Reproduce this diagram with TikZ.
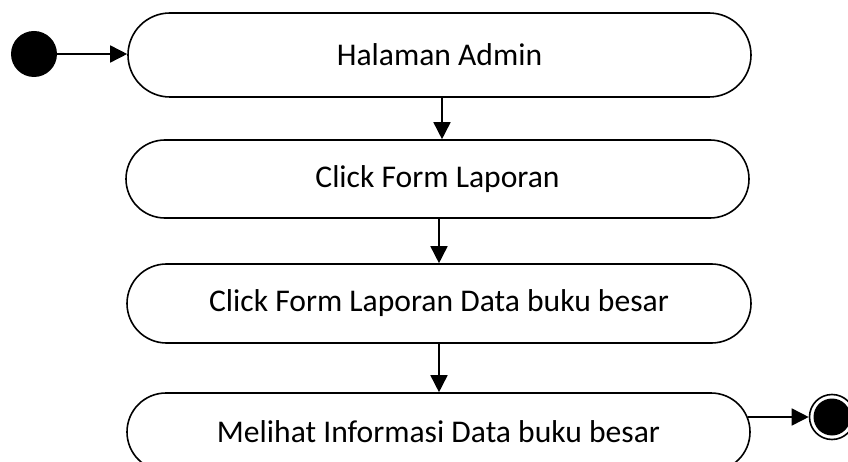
\documentclass[tikz,border=0pt]{standalone}
\usepackage{fontspec}
\setmainfont{Carlito}
\usetikzlibrary{shapes.misc,arrows.meta}
\tikzset{
  stbox/.style={rounded rectangle, draw, line width=1.6pt, minimum width=623pt, inner sep=0pt, font=\fontsize{31.6}{36}\selectfont},
  arr/.style={line width=1.6pt, -{Triangle[length=17pt,width=17pt]}},
}
\begin{document}
\begin{tikzpicture}[x=1pt,y=1pt]
\useasboundingbox (0,0) rectangle (848,461);
\clip (0,0) rectangle (848,461);
\node[circle, fill=black, minimum size=46pt, inner sep=0pt] (start) at (34,407) {};
\node[stbox, minimum height=84pt] (b1) at (439.5,406) {Halaman Admin};
\node[stbox, minimum height=78pt] (b2) at (437.5,282) {Click Form Laporan};
\node[stbox, minimum height=79pt, minimum width=624pt] (b3) at (439,157.5) {Click Form Laporan Data buku besar};
\node[stbox, minimum height=78pt] (b4) at (438.5,29) {Melihat Informasi Data buku besar};
\node[circle, draw, line width=1.6pt, minimum size=45pt, inner sep=0pt] (fin) at (832,44) {};
\node[circle, fill=black, minimum size=37pt, inner sep=0pt] (finin) at (fin) {};
\draw[arr] (start.east) -- (b1.west |- start.east);
\draw[arr] ([xshift=2.5pt]b1.south) -- ([xshift=4.5pt]b2.north);
\draw[arr] ([xshift=1.5pt]b2.south) -- ([xshift=0pt]b3.north);
\draw[arr] (b3.south) -- ([xshift=0.5pt]b4.north);
\draw[arr] ([xshift=-3pt]fin.west -| b4.east) -- (fin.west);
\end{tikzpicture}
\end{document}
